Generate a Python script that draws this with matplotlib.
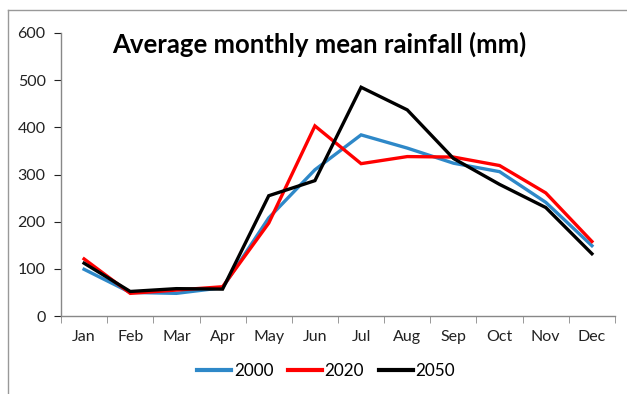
import matplotlib
matplotlib.use("Agg")
import matplotlib.pyplot as plt
from matplotlib.lines import Line2D

months = ["Jan", "Feb", "Mar", "Apr", "May", "Jun", "Jul", "Aug", "Sep", "Oct", "Nov", "Dec"]
rain_2000 = [99, 50, 48, 60, 208, 310, 384, 356, 324, 306, 241, 149]
rain_2020 = [121, 48, 55, 62, 197, 403, 323, 338, 337, 319, 261, 158]
rain_2050 = [112, 52, 58, 57, 255, 287, 485, 437, 334, 279, 230, 132]
series_labels = ["2000", "2020", "2050"]
yticks = [0, 100, 200, 300, 400, 500, 600]

plt.rcParams['font.family'] = ['Lato', 'DejaVu Sans']

fig = plt.figure(figsize=(6.27, 3.94), dpi=100)
ax = fig.add_axes([61/627, 1-316/394, (615-61)/627, (316-33)/394])

colors = ['#2E88C8', '#FF0000', '#000000']
x = list(range(len(months)))
for vals, c, lab in zip([rain_2000, rain_2020, rain_2050], colors, series_labels):
    ax.plot(x, vals, color=c, lw=2.4, label=lab, solid_joinstyle='miter')

ax.set_xlim(-0.5, len(months) - 0.5)
ax.set_ylim(0, 600)
ax.set_yticks(yticks)
ax.set_yticklabels([str(t) for t in yticks])
ax.set_xticks(x)
ax.set_xticklabels(months)
ax.set_xticks([i - 0.5 for i in range(len(months) + 1)], minor=True)
ax.tick_params(axis='x', which='major', length=0, pad=10, labelsize=11.5, colors='#222222')
ax.tick_params(axis='x', which='minor', length=5, color='#888888', direction='out')
ax.tick_params(axis='y', length=5, color='#888888', pad=6, labelsize=11.5, colors='#222222')
ax.tick_params(axis='y', colors='#222222')
for s in ['top', 'right']:
    ax.spines[s].set_visible(False)
for s in ['left', 'bottom']:
    ax.spines[s].set_color('#888888')
    ax.spines[s].set_linewidth(1.0)

fig.text(319/627, 1-44/394, "Average monthly mean rainfall (mm)", ha='center', va='center',
         fontsize=18.5, fontweight='bold', color='black')

handles = [Line2D([0], [0], color=c, lw=3) for c in colors]
fig.legend(handles, series_labels, loc='center', bbox_to_anchor=(326/627, 1-371/394),
           ncol=3, frameon=False, fontsize=12.3, handlelength=2.0, handletextpad=0.15,
           columnspacing=0.85)

# outer chart frame (left and top edges)
fig.add_artist(Line2D([8/627, 8/627], [0, 1-10/394], transform=fig.transFigure, color='#999999', lw=1))
fig.add_artist(Line2D([8/627, 1], [1-10/394, 1-10/394], transform=fig.transFigure, color='#999999', lw=1))

fig.savefig("out.png", dpi=100)
